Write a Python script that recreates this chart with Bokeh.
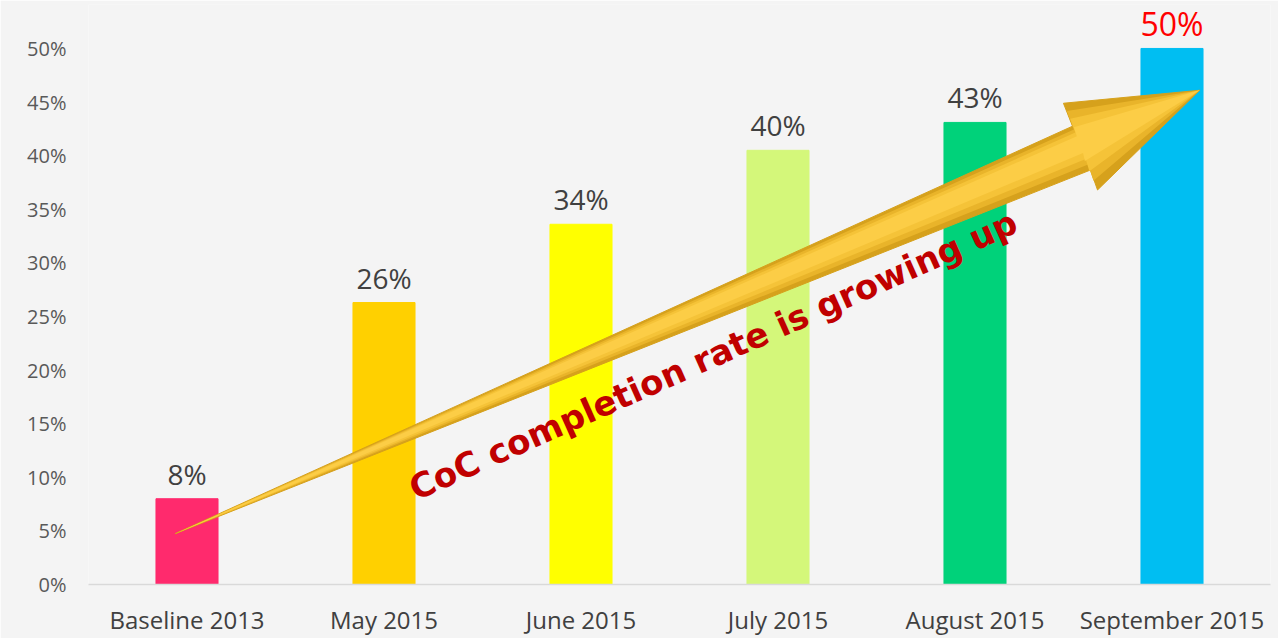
import math
from bokeh.plotting import figure
from bokeh.models import FactorRange, Range1d, FixedTicker, PrintfTickFormatter, ColumnDataSource
from bokeh.embed import file_html
from bokeh.resources import INLINE
from bokeh.core.properties import value

categories = ["Baseline 2013", "May 2015", "June 2015", "July 2015", "August 2015", "September 2015"]
rates = [8.0, 26.3, 33.6, 40.5, 43.1, 50.0]
labels = ["8%", "26%", "34%", "40%", "43%", "50%"]
bar_colors = ["#ff2a6d", "#ffd000", "#ffff00", "#d4f77a", "#00d27a", "#00bef2"]
y_ticks = [0, 5, 10, 15, 20, 25, 30, 35, 40, 45, 50]
annotation = "CoC completion rate is growing up"

# arrow outline (tail -> head), in chart coordinates
arrow_x = [0.44, 4.995, 4.949, 5.64, 5.122, 5.086]
arrow_y = [4.74, 42.75, 44.89, 46.10, 36.80, 38.66]

BG = "#f4f4f4"
p = figure(x_range=FactorRange(*categories, range_padding=0), y_range=Range1d(0, 54.1),
           width=1278, height=638, output_backend="svg", toolbar_location=None,
           min_border_left=88, min_border_right=8, min_border_top=4, min_border_bottom=52)
p.background_fill_color = BG
p.border_fill_color = BG
p.outline_line_color = None
p.xgrid.grid_line_color = None
p.ygrid.grid_line_color = None

src = ColumnDataSource(dict(x=categories, top=rates, color=bar_colors))
p.vbar(x="x", top="top", width=0.315, color="color", source=src)

# data labels
small = ColumnDataSource(dict(x=categories[:-1], y=rates[:-1], t=labels[:-1]))
p.text(x="x", y="y", text="t", source=small, text_align="center", text_baseline="bottom",
       y_offset=-6, text_font=value("Open Sans"), text_font_size="28px", text_color="#404040")
p.text(x=[categories[-1]], y=[rates[-1]], text=[labels[-1]], text_align="center", text_baseline="bottom",
       y_offset=-3, text_font=value("Open Sans"), text_font_size="32px", text_color="#ff0000")

# arrow with a simple layered "gradient": darker edges, lighter core
SX, SY = 197.0, 10.76  # approx px per unit, used only to shrink the shape evenly
tx, ty = arrow_x[0] * SX, arrow_y[0] * SY
hx, hy = arrow_x[3] * SX, arrow_y[3] * SY
dx, dy = hx - tx, hy - ty
L = math.hypot(dx, dy)
ux, uy = dx / L, dy / L

def shrink(f):
    xs, ys = [], []
    for ax, ay in zip(arrow_x, arrow_y):
        px, py = ax * SX, ay * SY
        t = (px - tx) * ux + (py - ty) * uy
        cx, cy = tx + t * ux, ty + t * uy
        xs.append((cx + (px - cx) * f) / SX)
        ys.append((cy + (py - cy) * f) / SY)
    return xs, ys

p.patch(arrow_x, arrow_y, fill_color="#d6a11c", line_color="#d6a11c", line_width=1)
for f, c in [(0.8, "#e9b42a"), (0.6, "#f5c338"), (0.38, "#fccd46")]:
    xs, ys = shrink(f)
    p.patch(xs, ys, fill_color=c, line_color=None)

p.text(x=[3.17], y=[21.4], text=[annotation], angle=0.42, text_align="center", text_baseline="middle",
       text_font=value("DejaVu Sans"), text_font_style="bold", text_font_size="34px", text_color="#c00000")

p.yaxis.ticker = FixedTicker(ticks=y_ticks)
p.yaxis.formatter = PrintfTickFormatter(format="%d%%")
p.yaxis.axis_line_color = None
p.yaxis.major_tick_line_color = None
p.yaxis.minor_tick_line_color = None
p.yaxis.major_label_text_font = "Open Sans"
p.yaxis.major_label_text_font_size = "20px"
p.yaxis.major_label_text_color = "#595959"
p.yaxis.major_label_standoff = 16

p.xaxis.axis_line_color = "#d9d9d9"
p.xaxis.axis_line_width = 1.5
p.xaxis.major_tick_line_color = None
p.xaxis.minor_tick_line_color = None
p.xaxis.major_label_text_font = "Open Sans"
p.xaxis.major_label_text_font_size = "24px"
p.xaxis.major_label_text_color = "#404040"
p.xaxis.major_label_standoff = 12

open("out.html", "w").write(file_html(p, INLINE))
